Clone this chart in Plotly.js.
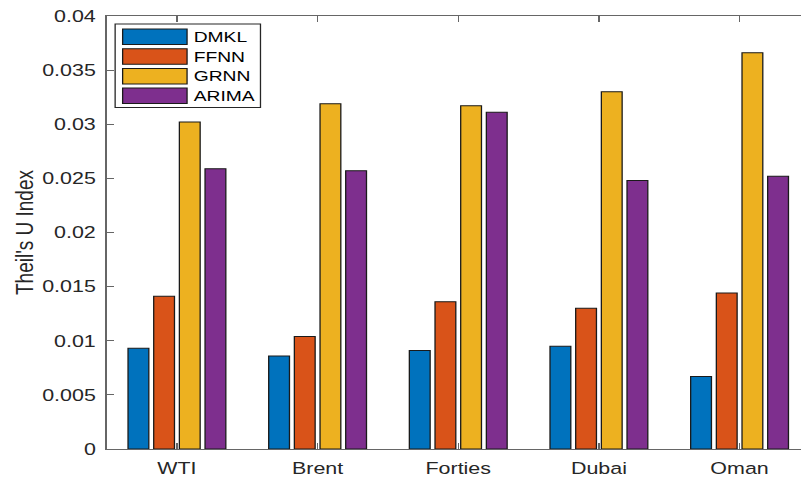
<!DOCTYPE html>
<html>
<head>
<meta charset="utf-8">
<script src="https://cdn.plot.ly/plotly-3.0.1.min.js"></script>
<style>
html, body { margin: 0; padding: 0; overflow: hidden; background: #fff; width: 801px; height: 481px; }
#chart { width: 625px; height: 481px; transform: scaleX(1.3); transform-origin: 0 0; }
</style>
</head>
<body>
<div id="chart"></div>
<script>
// ---- data ----
const categories = ["WTI", "Brent", "Forties", "Dubai", "Oman"];
const seriesNames = ["DMKL", "FFNN", "GRNN", "ARIMA"];
const dmkl  = [0.0093, 0.0086, 0.0091, 0.0095, 0.0067];
const ffnn  = [0.0141, 0.0104, 0.0136, 0.0130, 0.0144];
const grnn  = [0.0302, 0.0319, 0.0317, 0.0330, 0.0366];
const arima = [0.0259, 0.0257, 0.0311, 0.0248, 0.0252];
const yTickVals = [0, 0.005, 0.01, 0.015, 0.02, 0.025, 0.03, 0.035, 0.04];
const yTickText = ["0", "0.005", "0.01", "0.015", "0.02", "0.025", "0.03", "0.035", "0.04"];
const yTitle = "Theil's U Index";

// ---- styles ----
const colors = ["#0072BD", "#D95319", "#EDB120", "#7E2F8E"];
const seriesValues = [dmkl, ffnn, grnn, arima];
const FONT = "Liberation Sans, Arial, Helvetica, sans-serif";
const S = 1.3;                 // horizontal stretch of the original figure
const W = 625, H = 481;
const M = { l: 81.5, r: 1.9, t: 16, b: 32 };
const PW = W - M.l - M.r, PH = H - M.t - M.b;
const px2x = p => (p / S - M.l) / PW;   // screen px -> paper x
const px2y = p => 1 - (p - M.t) / PH;   // screen px -> paper y

const traces = seriesNames.map((name, i) => ({
  type: "bar",
  name: name,
  x: categories,
  y: seriesValues[i],
  marker: { color: colors[i], line: { color: "#1a1a1a", width: 1 } },
  showlegend: false,
  hoverinfo: "x+y+name"
}));

// custom MATLAB-style legend (box + wide swatches)
const shapes = [{
  type: "rect", xref: "paper", yref: "paper",
  x0: px2x(114.5), x1: px2x(260), y0: px2y(24), y1: px2y(107.5),
  line: { color: "#262626", width: 1 }, fillcolor: "#ffffff", layer: "above"
}];
const annotations = [];
seriesNames.forEach((name, i) => {
  const top = 29 + i * 19.7;
  shapes.push({
    type: "rect", xref: "paper", yref: "paper",
    x0: px2x(122), x1: px2x(186.5), y0: px2y(top), y1: px2y(top + 15.5),
    line: { color: "#1a1a1a", width: 1 }, fillcolor: colors[i], layer: "above"
  });
  annotations.push({
    xref: "paper", yref: "paper", x: px2x(191), y: px2y(top + 7.9),
    xanchor: "left", yanchor: "middle", showarrow: false,
    text: name, font: { family: FONT, size: 14.8, color: "#000" }
  });
});

const axisColor = "#666666";
const layout = {
  width: W, height: H,
  margin: M,
  paper_bgcolor: "#ffffff", plot_bgcolor: "#ffffff",
  font: { family: FONT, size: 16.5, color: "#262626" },
  barmode: "group",
  bargap: 0.27,
  bargroupgap: 0.19,
  xaxis: {
    type: "category",
    range: [-0.5, 4.5],
    showgrid: false, zeroline: false,
    showline: true, linecolor: axisColor, linewidth: 1, mirror: "allticks",
    ticks: "inside", ticklen: 6, tickcolor: axisColor, tickwidth: 1,
    ticklabelstandoff: 4,
    tickfont: { family: FONT, size: 16.5, color: "#262626" }
  },
  yaxis: {
    range: [0, 0.04],
    tickmode: "array", tickvals: yTickVals, ticktext: yTickText,
    showgrid: false, zeroline: false,
    showline: true, linecolor: axisColor, linewidth: 1, mirror: "allticks",
    ticks: "inside", ticklen: 6, tickcolor: axisColor, tickwidth: 1,
    ticklabelstandoff: 4,
    tickfont: { family: FONT, size: 16.5, color: "#262626" },
    title: { text: yTitle, standoff: 1, font: { family: FONT, size: 19, color: "#262626" } }
  },
  shapes: shapes,
  annotations: annotations
};

Plotly.newPlot("chart", traces, layout, { staticPlot: true, displayModeBar: false });
</script>
</body>
</html>
